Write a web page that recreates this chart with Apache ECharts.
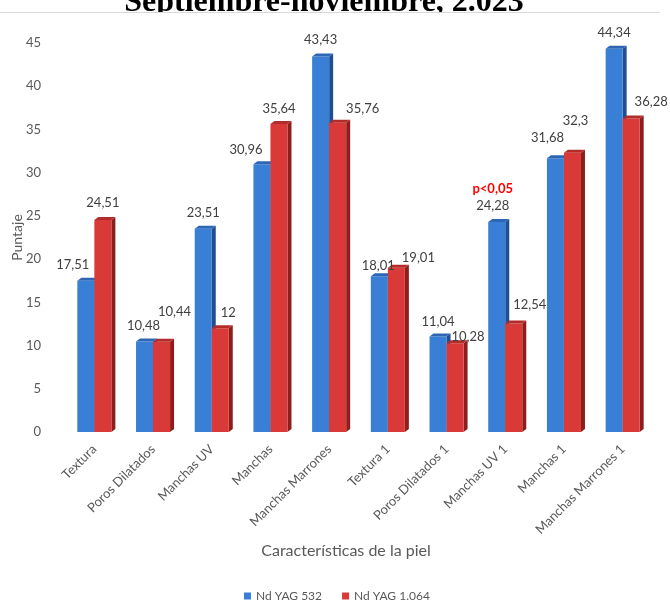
<!DOCTYPE html>
<html>
<head>
<meta charset="utf-8">
<script src="https://cdn.jsdelivr.net/npm/echarts@6/dist/echarts.min.js"></script>
<style>
html,body{margin:0;padding:0;background:#fff;}
#chart{width:670px;height:601px;}
</style>
</head>
<body>
<div id="chart"></div>
<script>
// ---- data ----
const categories = ['Textura', 'Poros Dilatados', 'Manchas UV', 'Manchas', 'Manchas Marrones',
  'Textura 1', 'Poros Dilatados 1', 'Manchas UV 1', 'Manchas 1', 'Manchas Marrones 1'];
const seriesNames = ['Nd YAG 532', 'Nd YAG 1.064'];
const ndYag532 = [17.51, 10.48, 23.51, 30.96, 43.43, 18.01, 11.04, 24.28, 31.68, 44.34];
const ndYag1064 = [24.51, 10.44, 12, 35.64, 35.76, 19.01, 10.28, 12.54, 32.3, 36.28];
const yTicks = [0, 5, 10, 15, 20, 25, 30, 35, 40, 45];
const significanceNote = { seriesIndex: 0, categoryIndex: 7, text: 'p<0,05' };

// ---- label nudges (layout only, pixels) ----
const labelNudge532 = [[-13, 0], [-1, 0], [0, 0], [-16, 1], [0, -1], [-1, 5], [0, 1], [-4, 0], [-8, -4], [0, 0]];
const labelNudge1064 = [[0, -1], [13, -14], [8, 1], [0, 1], [25, 2], [22, 6], [13, 10], [16, -3], [3, -16], [20, -1]];

const styles = [
  { front: '#3a7fd6', top: '#2d66b4', side: '#1f4f92', side_: 'left', nudge: labelNudge532 },
  { front: '#d93a37', top: '#b42c29', side: '#8c1f1d', side_: 'right', nudge: labelNudge1064 }
];

function fmt(v) { return String(v).replace('.', ','); }

function makeRender(si) {
  const st = styles[si];
  return function (params, api) {
    const ci = api.value(0), v = api.value(1);
    const p0 = api.coord([ci, 0]);
    const p1 = api.coord([ci, v]);
    const band = api.size([1, 0])[0];
    const w = band * 0.29;
    const x0 = st.side_ === 'left' ? p0[0] - w : p0[0];
    const x1 = x0 + w;
    const yb = p0[1], yt = p1[1];
    const dx = 4, dy = 3;
    const nd = st.nudge[ci] || [0, 0];
    const cx = (x0 + x1) / 2;
    const children = [
      { type: 'polygon', shape: { points: [[x1, yt], [x1 + dx, yt - dy], [x1 + dx, yb - dy], [x1, yb]] }, style: { fill: st.side } },
      { type: 'rect', shape: { x: x0, y: yt, width: w, height: yb - yt }, style: { fill: st.front } },
      { type: 'polygon', shape: { points: [[x0, yt], [x0 + dx, yt - dy], [x1 + dx, yt - dy], [x1, yt]] }, style: { fill: st.top } },
      { type: 'text', z2: 10, style: { text: fmt(v), x: cx + nd[0], y: yt - 16 + nd[1], align: 'center', verticalAlign: 'middle',
          fill: '#404040', font: '13px Lato' } }
    ];
    if (significanceNote.seriesIndex === si && significanceNote.categoryIndex === ci) {
      children.push({ type: 'text', z2: 10, style: { text: significanceNote.text, x: cx + nd[0], y: yt - 33 + nd[1],
        align: 'center', verticalAlign: 'middle', fill: '#ff0000', font: 'bold 13px Lato' } });
    }
    return { type: 'group', children: children };
  };
}

const valueSets = [ndYag532, ndYag1064];
const chart = echarts.init(document.getElementById('chart'), null, { renderer: 'canvas' });
chart.setOption({
  animation: false,
  backgroundColor: '#ffffff',
  grid: { left: 65, right: 18, top: 43, bottom: 169, containLabel: false, outerBoundsMode: 'none' },
  legend: {
    left: 239, top: 585, itemWidth: 7, itemHeight: 7, itemGap: 20, icon: 'rect',
    textStyle: { fontFamily: 'Lato', fontSize: 12, color: '#595959' },
    data: seriesNames
  },
  xAxis: {
    type: 'category', data: categories,
    axisLine: { show: false }, axisTick: { show: false },
    axisLabel: { rotate: 45, interval: 0, margin: 15, fontFamily: 'Lato', fontSize: 13, color: '#595959' }
  },
  yAxis: {
    type: 'value', min: yTicks[0], max: yTicks[yTicks.length - 1], interval: yTicks[1] - yTicks[0],
    name: 'Puntaje', nameLocation: 'middle', nameGap: 41, nameRotate: 90, nameMoveOverlap: false,
    nameTextStyle: { fontFamily: 'Lato', fontSize: 14, color: '#595959' },
    axisLine: { show: false }, axisTick: { show: false }, splitLine: { show: false },
    axisLabel: { margin: 24, fontFamily: 'Lato', fontSize: 13, color: '#595959' }
  },
  graphic: [
    { type: 'text', z: 1, style: { text: 'Septiembre-noviembre, 2.023', x: 324, y: 3,
        align: 'center', verticalAlign: 'middle', font: 'bold 32px "Liberation Serif"', fill: '#000' } },
    { type: 'rect', z: 2, shape: { x: 0, y: 12.5, width: 670, height: 12 }, style: { fill: '#fff' } },
    { type: 'line', z: 3, shape: { x1: 0, y1: 12.5, x2: 660, y2: 12.5 }, style: { stroke: '#d9d9d9', lineWidth: 1 } },
    { type: 'text', z: 3, style: { text: 'Características de la piel', x: 346, y: 551, align: 'center', verticalAlign: 'middle',
        font: '16px Lato', fill: '#595959' } }
  ],
  series: seriesNames.map(function (name, si) {
    return {
      name: name, type: 'custom', renderItem: makeRender(si),
      itemStyle: { color: styles[si].front },
      encode: { x: 0, y: 1 },
      data: valueSets[si].map(function (v, i) { return [i, v]; })
    };
  })
});
</script>
</body>
</html>
